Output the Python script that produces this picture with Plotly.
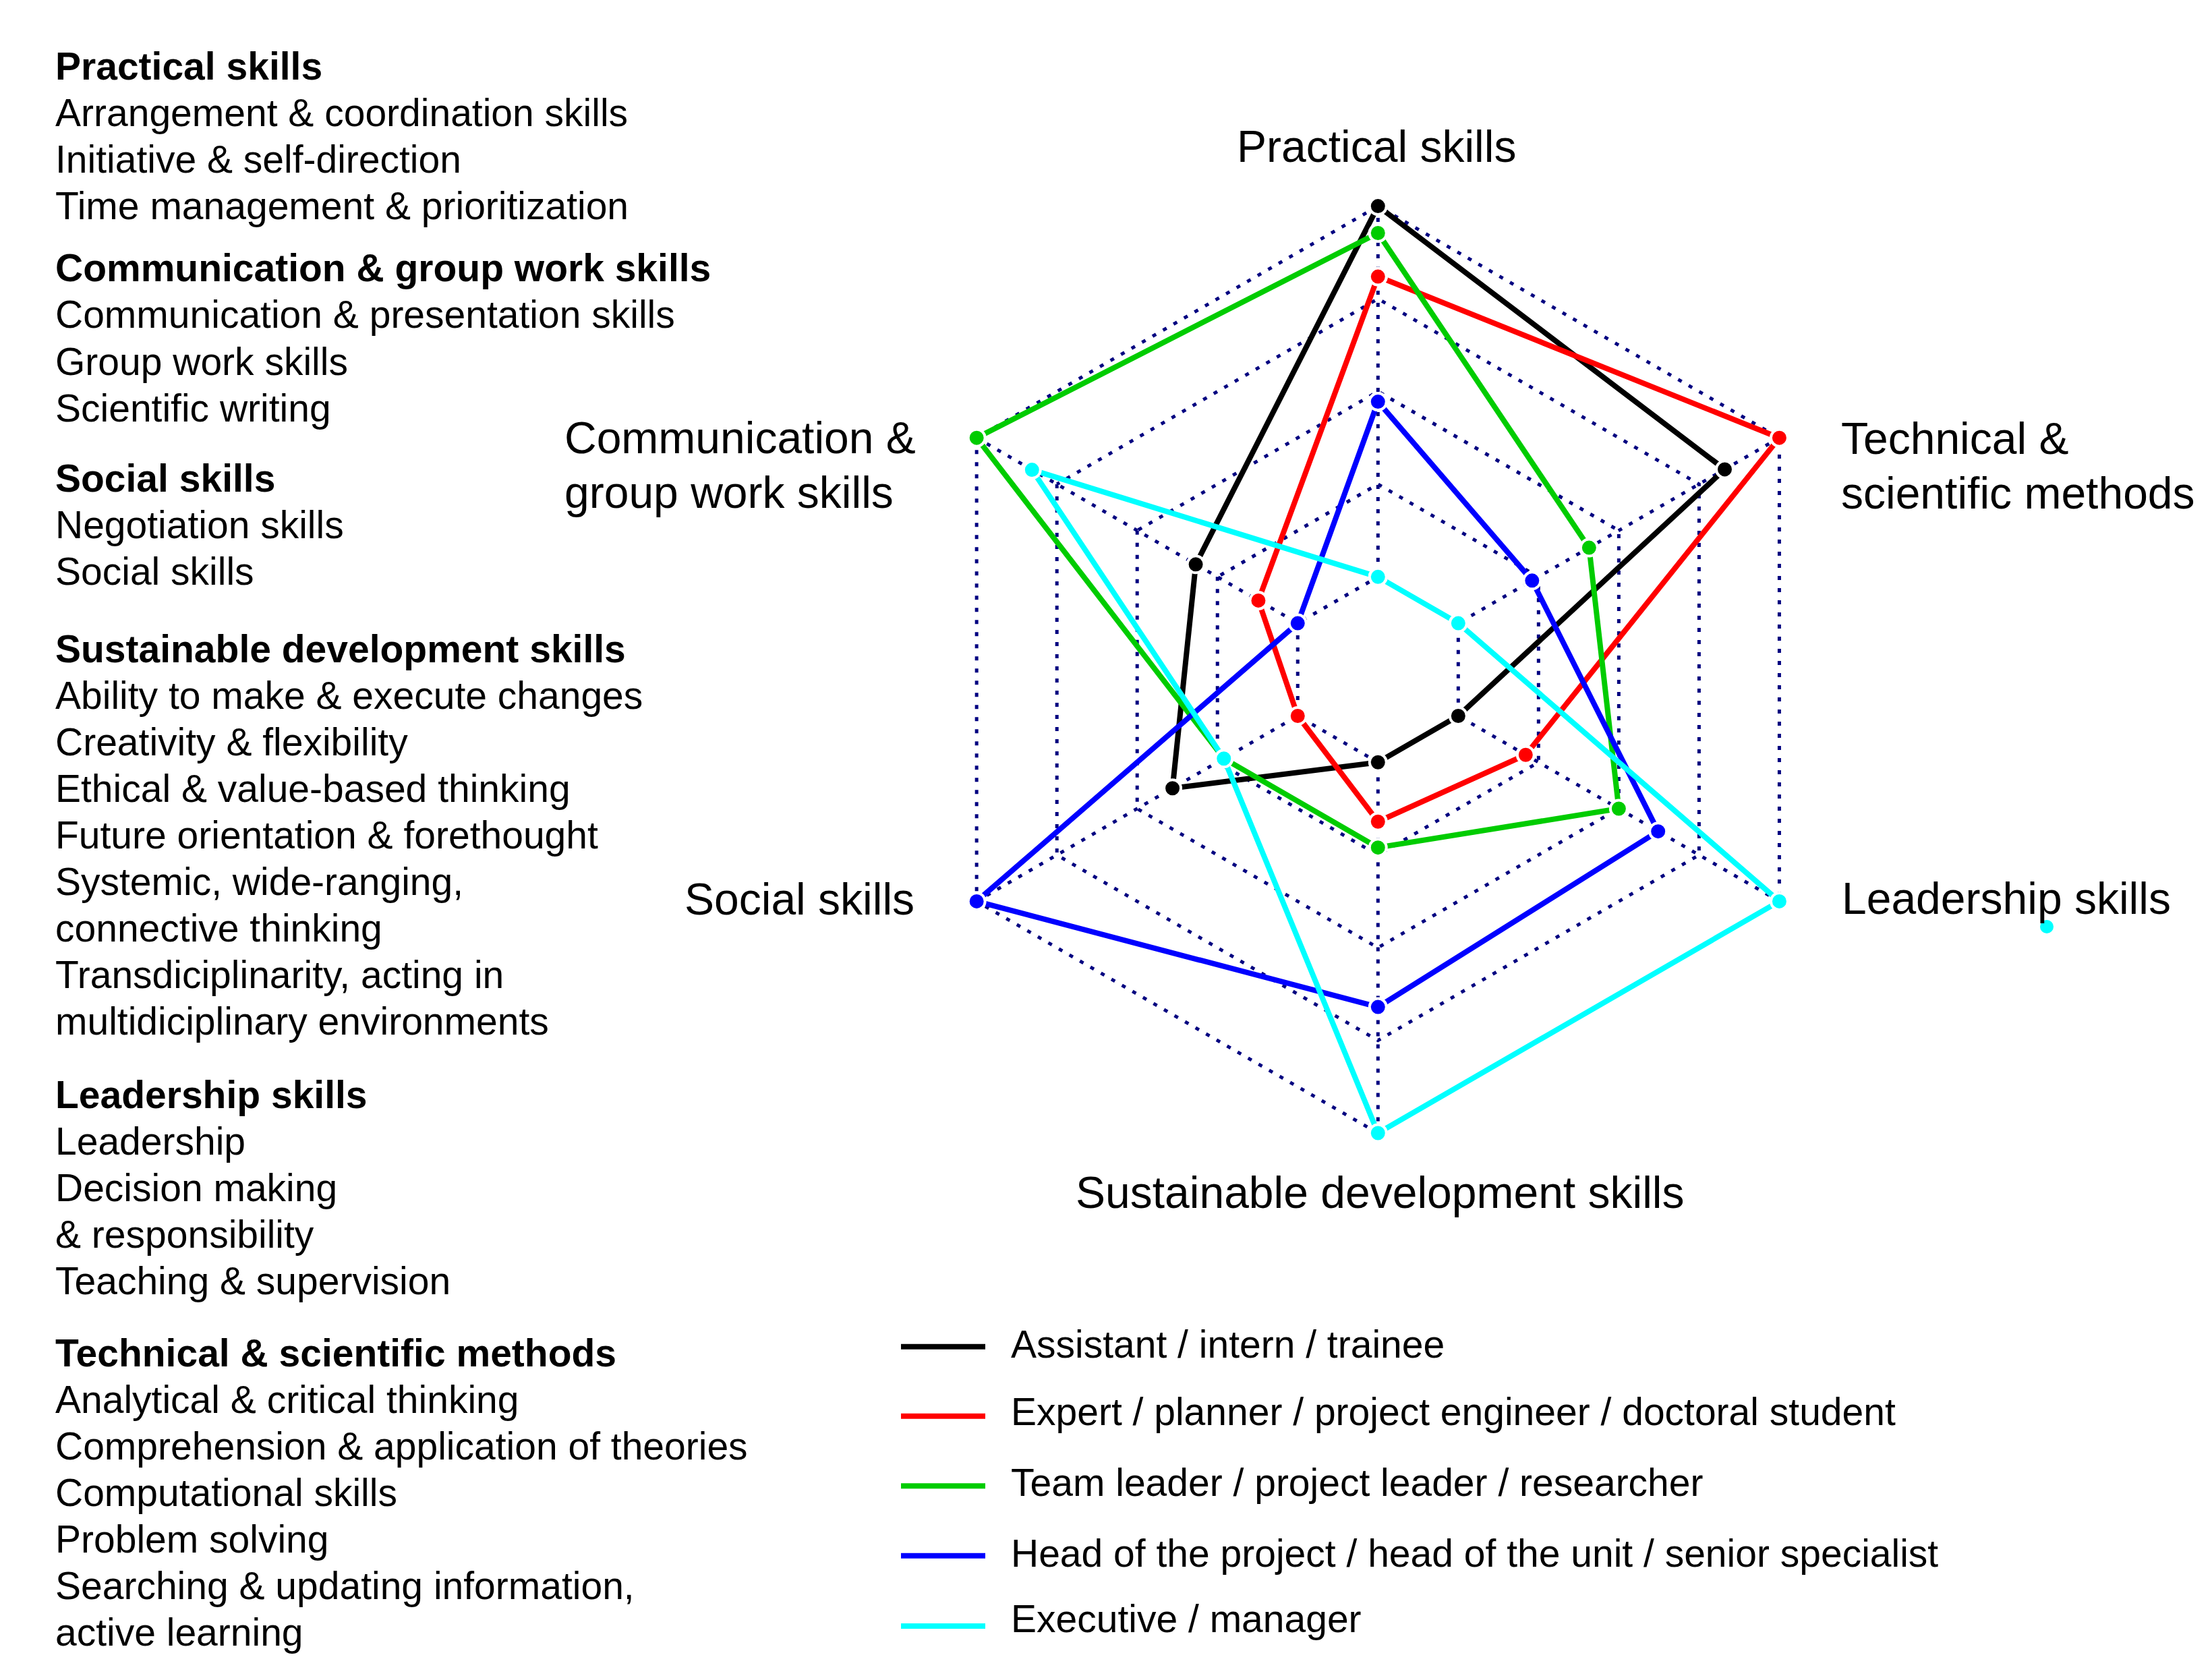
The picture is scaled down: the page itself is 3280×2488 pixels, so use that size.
import plotly.graph_objects as go

PAGE_W, PAGE_H = 3280, 2488
BODY_MARGIN = 8
W, H = PAGE_W - 2 * BODY_MARGIN, PAGE_H - 2 * BODY_MARGIN

# ---------------- data ----------------
categories = [
    "Practical skills",
    "Technical & scientific methods",
    "Leadership skills",
    "Sustainable development skills",
    "Social skills",
    "Communication & group work skills",
]

series_names = [
    "Assistant / intern / trainee",
    "Expert / planner / project engineer / doctoral student",
    "Team leader / project leader / researcher",
    "Head of the project / head of the unit / senior specialist",
    "Executive / manager",
]
series_colors = ["#000000", "#FF0000", "#00CC00", "#0000FF", "#00FFFF"]

assistant = [5.0, 4.32, 1.0, 1.0, 2.56, 2.27]
expert = [4.24, 5.0, 1.84, 1.64, 1.0, 1.49]
team_leader = [4.71, 2.63, 3.0, 1.92, 1.92, 5.0]
head = [2.89, 1.92, 3.49, 3.64, 5.0, 1.0]
executive = [1.0, 1.0, 5.0, 5.0, 1.92, 4.31]
series_values = [assistant, expert, team_leader, head, executive]

ring_values = [1, 2, 3, 4, 5]

left_lines = [
    "Practical skills", "Arrangement & coordination skills", "Initiative & self-direction",
    "Time management & prioritization",
    "Communication & group work skills", "Communication & presentation skills",
    "Group work skills", "Scientific writing",
    "Social skills", "Negotiation skills", "Social skills",
    "Sustainable development skills", "Ability to make & execute changes",
    "Creativity & flexibility", "Ethical & value-based thinking",
    "Future orientation & forethought", "Systemic, wide-ranging,", "connective thinking",
    "Transdiciplinarity, acting in", "multidiciplinary environments",
    "Leadership skills", "Leadership", "Decision making", "& responsibility",
    "Teaching & supervision",
    "Technical & scientific methods", "Analytical & critical thinking",
    "Comprehension & application of theories", "Computational skills", "Problem solving",
    "Searching & updating information,", "active learning",
]
left_bold = [
    True, False, False, False,
    True, False, False, False,
    True, False, False,
    True, False, False, False, False, False, False, False, False,
    True, False, False, False, False,
    True, False, False, False, False, False, False,
]

# ---------------- layout helpers (page pixel positions) ----------------
FONT = "Liberation Sans, Arial, Helvetica, sans-serif"
S = 3280 / 1568.0
left_y_px = [v * S for v in [47, 80, 113, 146, 190, 223, 256, 289, 339, 372, 405,
                             460, 493, 526, 559, 592, 625, 658, 691, 724,
                             776, 809, 842, 875, 908,
                             959, 992, 1025, 1058, 1091, 1124, 1157]]


def px(x):
    return (x - BODY_MARGIN) / W


def py(y):
    return 1 - (y - BODY_MARGIN) / H


# radial range padded slightly so lines lying on the outer / inner ring are not clipped
R_MIN, R_MAX = 0.9, 5.1
cx, cy = 2043.3, 992.8
R_px = 687.2 * R_MAX / 5.0

fig = go.Figure()
for name, color, vals in zip(series_names, series_colors, series_values):
    fig.add_trace(go.Scatterpolar(
        r=vals + [vals[0]],
        theta=categories + [categories[0]],
        mode="lines+markers",
        name=name,
        line=dict(color=color, width=8),
        marker=dict(color=color, size=25, line=dict(color="white", width=4)),
        cliponaxis=False,
        showlegend=False,
    ))

annotations = []
for txt, b, y in zip(left_lines, left_bold, left_y_px):
    annotations.append(dict(
        text=f"<b>{txt}</b>" if b else txt, x=px(80), y=py(y), xref="paper", yref="paper",
        xanchor="left", yanchor="middle", showarrow=False,
        font=dict(family=FONT, size=57, color="black"),
    ))

axis_labels = [
    ("Practical skills", 2041, 217.5, "center"),
    ("Technical &", 2728, 650, "left"),
    ("scientific methods", 2728, 730.5, "left"),
    ("Leadership skills", 2729, 1332, "left"),
    ("Sustainable development skills", 2046, 1767.5, "center"),
    ("Social skills", 1357.6, 1332.5, "right"),
    ("Communication &", 835, 649, "left"),
    ("group work skills", 835, 730, "left"),
]
for txt, x, y, anc in axis_labels:
    annotations.append(dict(
        text=txt, x=px(x), y=py(y), xref="paper", yref="paper",
        xanchor=anc, yanchor="middle", showarrow=False,
        font=dict(family=FONT, size=66, color="black"),
    ))

legend_line_y = [1996.7, 2099.7, 2203.3, 2306.7, 2411]
legend_text_y = [1992.5, 2093, 2198, 2303, 2400]
shapes = []
for name, color, ly, ty in zip(series_names, series_colors, legend_line_y, legend_text_y):
    shapes.append(dict(type="line", xref="paper", yref="paper",
                       x0=px(1336), x1=px(1461), y0=py(ly), y1=py(ly),
                       line=dict(color=color, width=8)))
    annotations.append(dict(
        text=name, x=px(1497), y=py(ty), xref="paper", yref="paper",
        xanchor="left", yanchor="middle", showarrow=False,
        font=dict(family=FONT, size=57, color="black"),
    ))

# small stray cyan dot next to the "Leadership skills" label
shapes.append(dict(type="circle", xref="paper", yref="paper",
                   x0=px(3025), x1=px(3045), y0=py(1364), y1=py(1384),
                   fillcolor="#00FFFF", line=dict(width=0)))

grid_color = "#000080"
fig.update_layout(
    width=W, height=H, autosize=False,
    margin=dict(l=0, r=0, t=0, b=0),
    paper_bgcolor="white", plot_bgcolor="white",
    showlegend=False,
    polar=dict(
        domain=dict(x=[px(cx - R_px), px(cx + R_px)], y=[py(cy + R_px), py(cy - R_px)]),
        bgcolor="white",
        gridshape="linear",
        hole=R_MIN / R_MAX,
        angularaxis=dict(
            type="category", categoryarray=categories, rotation=90, direction="clockwise",
            showticklabels=False, ticks="", showline=False,
            showgrid=True, gridcolor=grid_color, gridwidth=5, griddash="6px,12px",
        ),
        radialaxis=dict(
            range=[R_MIN, R_MAX], tickvals=ring_values, showticklabels=False, ticks="",
            showline=False, showgrid=True, gridcolor=grid_color, gridwidth=5,
            griddash="6px,12px",
        ),
    ),
    annotations=annotations,
    shapes=shapes,
)

fig.write_html("out.html")
